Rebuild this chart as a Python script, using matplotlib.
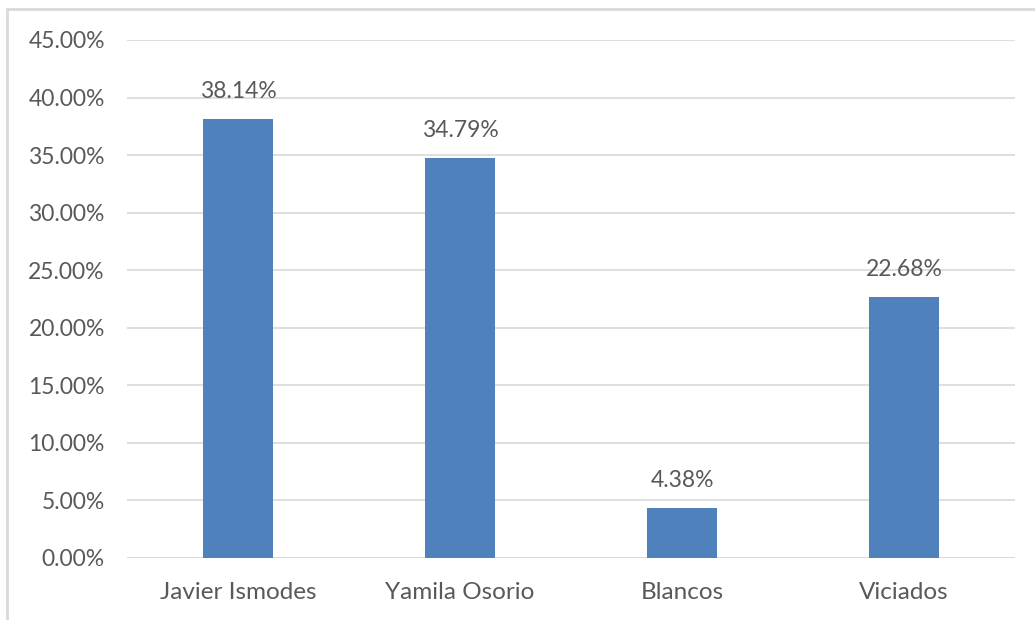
import matplotlib
matplotlib.use("Agg")
import matplotlib.pyplot as plt
from matplotlib.patches import Rectangle
from matplotlib.ticker import FuncFormatter, MultipleLocator

categories = ["Javier Ismodes", "Yamila Osorio", "Blancos", "Viciados"]
values = [38.14, 34.79, 4.38, 22.68]

plt.rcParams['font.family'] = ['Lato', 'DejaVu Sans']
txt = '#595959'

fig = plt.figure(figsize=(10.35, 6.2), dpi=100)
ax = fig.add_axes([127/1035, 1 - 558/620, (1015 - 127)/1035, (558 - 40)/620])

x = list(range(len(categories)))
bars = ax.bar(x, values, width=0.315, color='#4F81BD', zorder=3)
for xi, v in zip(x, values):
    ax.annotate(f"{v:.2f}%", (xi, v), xytext=(0, 12), textcoords='offset points',
                ha='center', va='bottom', fontsize=16.5, color=txt)

ax.set_xlim(-0.5, len(categories) - 0.5)
ax.set_ylim(0, 45)
ax.yaxis.set_major_locator(MultipleLocator(5))
ax.yaxis.set_major_formatter(FuncFormatter(lambda v, p: f"{v:.2f}%"))
ax.set_xticks(x)
ax.set_xticklabels(categories)
ax.tick_params(axis='both', length=0, labelcolor=txt)
ax.tick_params(axis='y', pad=16, labelsize=16.5)
ax.tick_params(axis='x', pad=17, labelsize=17.5)
ax.grid(axis='y', color='#d9d9d9', linewidth=1.2, zorder=0)
for s in ax.spines.values():
    s.set_visible(False)
ax.axhline(0, color='#d9d9d9', linewidth=1.2, zorder=2)

fig.patches.append(Rectangle((7/1035, -0.1), 1.2, 1 - 9/620 + 0.1, transform=fig.transFigure,
                             fill=False, edgecolor='#d9d9d9', linewidth=2))

fig.savefig("out.png", dpi=100)
